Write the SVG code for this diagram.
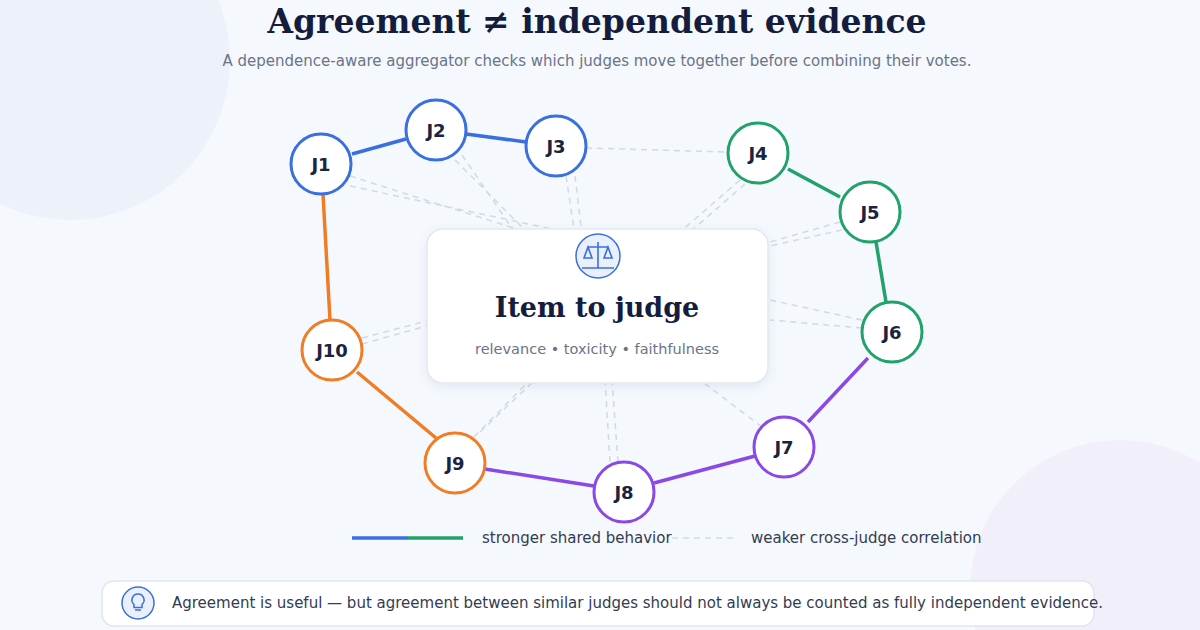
<svg xmlns="http://www.w3.org/2000/svg" width="1200" height="630" viewBox="0 0 1200 630">
<defs><style>
.n circle{fill:#fff;stroke-width:3}
.n text{font-family:"DejaVu Sans",sans-serif;font-weight:bold;font-size:18px;fill:#1a2340;text-anchor:middle}
.w{stroke:#d3d9e3;stroke-width:1.5;stroke-dasharray:6 5;fill:none}
.s{stroke-width:3.5;fill:none}
</style>
<filter id="sh" x="-10%" y="-10%" width="120%" height="130%"><feDropShadow dx="0" dy="3" stdDeviation="5" flood-color="#5a6a90" flood-opacity="0.12"/></filter>
</defs>
<rect width="1200" height="630" fill="#f5f8fd"/>
<circle cx="70" cy="60" r="160" fill="#edf2fa"/>
<circle cx="1120" cy="590" r="150" fill="#f1eff9"/>
<text x="597" y="33" text-anchor="middle" font-family="DejaVu Serif,serif" font-weight="bold" font-size="33" fill="#141d3d">Agreement ≠ independent evidence</text>
<text x="597" y="66" text-anchor="middle" font-family="DejaVu Sans,sans-serif" font-size="15" fill="#6b7488">A dependence-aware aggregator checks which judges move together before combining their votes.</text>
<g id="connectors">
<path class="w" d="M350 176L520 230M350 186L580 235M455 160L530 235M462 155L520 240M566 176L575 235M575 176L582 235M586 148L728 152M740 180L680 232M745 184L690 232M840 222L770 242M842 230L770 246M862 320L770 300M862 328L770 320M762 427L700 380M610 462L605 380M618 462L612 380M474 437L530 380M480 432L535 380M362 344L430 325M362 338L430 320"/>
<line class="s" stroke="#3a6fe0" x1="352" y1="154" x2="406" y2="139"/>
<line class="s" stroke="#3a6fe0" x1="466" y1="134" x2="526" y2="142"/>
<line class="s" stroke="#20a26a" x1="788" y1="169" x2="840" y2="197"/>
<line class="s" stroke="#20a26a" x1="876" y1="242" x2="886" y2="302"/>
<line class="s" stroke="#8a48e6" x1="868" y1="358" x2="808" y2="422"/>
<line class="s" stroke="#8a48e6" x1="755" y1="456" x2="654" y2="483"/>
<line class="s" stroke="#8a48e6" x1="594" y1="486" x2="485" y2="469"/>
<line class="s" stroke="#f07c24" x1="436" y1="438" x2="357" y2="372"/>
<line class="s" stroke="#f07c24" x1="330" y1="320" x2="323" y2="194"/>
</g>
<g id="card">
<rect x="427" y="229" width="341" height="154" rx="16" fill="#fff" stroke="#e3e8f0" stroke-width="1.5" filter="url(#sh)"/>
<circle cx="598" cy="256" r="22" fill="#e9f0fc" stroke="#3a6fe0" stroke-width="1.5"/>
<g stroke="#3a6fe0" stroke-width="1.6" fill="none"><path d="M598 242V268M588 247H608M582 268H614M588 247L584 258H592ZM608 247L604 258H612Z"/></g>
<text x="597" y="317" text-anchor="middle" font-family="DejaVu Serif,serif" font-weight="bold" font-size="27" fill="#141d3d">Item to judge</text>
<text x="597" y="354" text-anchor="middle" font-family="DejaVu Sans,sans-serif" font-size="14.5" fill="#6b7488">relevance  •  toxicity  •  faithfulness</text>
</g>
<g id="J1" class="n"><circle cx="321" cy="164" r="30" stroke="#3a6fe0"/><text x="321" y="171">J1</text></g>
<g id="J2" class="n"><circle cx="436" cy="130" r="30" stroke="#3a6fe0"/><text x="436" y="137">J2</text></g>
<g id="J3" class="n"><circle cx="556" cy="146" r="30" stroke="#3a6fe0"/><text x="556" y="153">J3</text></g>
<g id="J4" class="n"><circle cx="758" cy="153" r="30" stroke="#20a26a"/><text x="758" y="160">J4</text></g>
<g id="J5" class="n"><circle cx="870" cy="212" r="30" stroke="#20a26a"/><text x="870" y="219">J5</text></g>
<g id="J6" class="n"><circle cx="892" cy="332" r="30" stroke="#20a26a"/><text x="892" y="339">J6</text></g>
<g id="J7" class="n"><circle cx="784" cy="447" r="30" stroke="#8a48e6"/><text x="784" y="454">J7</text></g>
<g id="J8" class="n"><circle cx="624" cy="492" r="30" stroke="#8a48e6"/><text x="624" y="499">J8</text></g>
<g id="J9" class="n"><circle cx="455" cy="463" r="30" stroke="#f07c24"/><text x="455" y="470">J9</text></g>
<g id="J10" class="n"><circle cx="332" cy="350" r="30" stroke="#f07c24"/><text x="332" y="357">J10</text></g>
<g id="legend" font-family="DejaVu Sans,sans-serif" font-size="15" fill="#333c50">
<line x1="352" y1="538" x2="408" y2="538" stroke="#3a6fe0" stroke-width="3.5"/>
<line x1="408" y1="538" x2="463" y2="538" stroke="#20a26a" stroke-width="3.5"/>
<text x="482" y="543">stronger shared behavior</text>
<line class="w" x1="672" y1="538" x2="735" y2="538"/>
<text x="751" y="543">weaker cross-judge correlation</text>
</g>
<g id="note">
<rect x="102" y="581" width="992" height="45" rx="12" fill="#fff" stroke="#dfe5ef" stroke-width="1.5"/>
<circle cx="138" cy="603" r="16" fill="#e9f0fc" stroke="#3a6fe0" stroke-width="1.5"/>
<path d="M138 594a6 6 0 0 0-4 10.5v3h8v-3a6 6 0 0 0-4-10.5zM135 610h6" fill="none" stroke="#3a6fe0" stroke-width="1.5"/>
<text x="172" y="608" font-family="DejaVu Sans,sans-serif" font-size="15" fill="#333c50">Agreement is useful — but agreement between similar judges should not always be counted as fully independent evidence.</text>
</g>
</svg>
